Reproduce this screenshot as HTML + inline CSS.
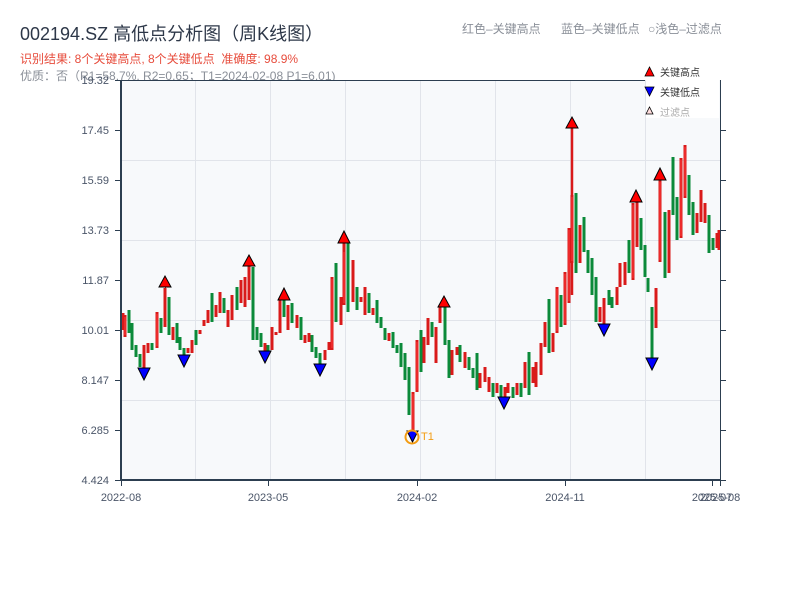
<!DOCTYPE html>
<html>
<head>
<meta charset="utf-8">
<style>
html,body{margin:0;padding:0;background:#fff;}
svg{display:block;}
text{font-family:"Liberation Sans","Noto Sans CJK SC",sans-serif;}
</style>
</head>
<body>
<svg width="800" height="600" viewBox="0 0 800 600" xmlns="http://www.w3.org/2000/svg">
<rect x="0" y="0" width="800" height="600" fill="#fff"/>

<!-- header texts -->
<text x="20" y="40" font-size="18" fill="#2d3748">002194.SZ 高低点分析图（周K线图）</text>
<text x="20" y="63" font-size="12" fill="#e74c3c" xml:space="preserve">识别结果: 8个关键高点, 8个关键低点  准确度: 98.9%</text>
<text x="20" y="80" font-size="12" fill="#8a8f98">优质：否（R1=58.7%, R2=0.65；T1=2024-02-08 P1=6.01)</text>
<text x="462" y="33" font-size="12" fill="#8a8f98">红色–关键高点</text>
<text x="561" y="33" font-size="12" fill="#8a8f98">蓝色–关键低点</text>
<text x="648" y="33" font-size="12" fill="#8a8f98">○浅色–过滤点</text>

<!-- plot background -->
<rect x="121" y="80" width="599" height="400" fill="#f7f9fb"/>
<!-- grid -->
<g stroke="#e1e4ea" stroke-width="1">
<path d="M195.5 80V480M270.5 80V480M345.5 80V480M420.5 80V480M495.5 80V480M570.5 80V480M645.5 80V480"/>
<path d="M121 160.5H720M121 240.5H720M121 320.5H720M121 400.5H720"/>
</g>

<!-- legend box -->
<rect x="646" y="62" width="73" height="56" fill="#fff"/>

<!-- candles red -->
<path stroke="#d91a1a" stroke-width="3" fill="none" d="M123 313V330M125 315V337M144 345V368M148 343V353M157 312V348M165 288V327M173 327V340M188 348V353M192 340V353M200 330V334M204 320V326M208 310V323M216 305V317M220 292V313M228 310V327M232 295V320M241 280V303M245 277V307M249 266V300M265 343V351M272 327V350M276 332V335M280 300V333M288 305V330M297 315V328M305 335V343M309 333V342M325 350V360M329 342V350M332 277V350M341 297V325M344 243V305M353 260V302M361 297V302M365 287V315M373 308V315M389 333V341M413 392V431M417 340V392M424 337V363M428 318V345M436 327V363M440 307V323M452 350V375M457 347V355M465 352V368M480 373V388M485 367V382M489 377V392M497 383V393M505 387V397M508 383V393M517 383V395M525 362V388M533 367V383M536 362V387M541 343V375M545 322V347M553 333V352M557 287V333M565 272V325M569 228V303M572 195V263M580 225V263M600 307V322M604 298V324M617 287V305M620 263V287M625 262V285M633 203V280M637 202V247M656 288V328M660 180V262M669 210V273M681 158V238M685 145V198M697 213V233M701 190V222M705 203V223M717 233V248M719 230V250"/>
<path stroke="#d91a1a" stroke-width="2.5" fill="none" d="M572 128V295"/>
<path stroke="#d91a1a" stroke-width="1" fill="none" d="M165.5 287V290M249.5 266V268M344.5 243V250M413.5 428V434M660.5 180V185M637 202V205"/>
<path stroke="#ff3b3b" stroke-width="1" fill="none" d="M125 317V335M157 314V346M332 279V348M344 252V303M413 394V429M417 342V390M557 289V331M565 274V323M569 230V301M572 197V261M633 205V278M660 182V260M681 160V236M685 147V196"/>

<!-- candles green -->
<path stroke="#0b8a3a" stroke-width="3" fill="none" d="M129 310V333M132 323V350M136 345V357M140 354V367M152 343V350M161 318V333M169 297V335M177 323V343M180 337V350M184 348V355M196 330V345M212 293V322M224 298V313M237 287V310M253 267V340M257 327V340M261 333V347M268 345V352M284 300V317M292 303V323M301 317V340M312 335V352M316 347V358M320 353V364M336 263V322M348 243V312M357 287V310M369 293V313M377 300V323M381 317V328M385 328V340M393 332V348M397 345V353M401 343V367M405 353V380M409 367V415M421 330V372M432 322V337M445 307V345M449 340V378M460 345V362M469 357V370M473 368V378M477 353V390M493 383V397M501 385V397M513 387V398M521 383V397M529 352V395M549 299V353M561 295V327M576 193V273M584 217V252M588 250V273M592 258V295M596 277V322M609 290V305M612 297V308M629 240V273M641 218V250M645 245V277M648 278V292M652 307V358M665 212V278M673 157V215M677 197V240M689 175V215M693 202V235M709 215V253M713 238V250"/>

<!-- high markers -->
<g fill="#ff0000" stroke="#000" stroke-width="1">
<path d="M159 287L165 276L171 287Z"/>
<path d="M243 266L249 255L255 266Z"/>
<path d="M278 300L284 288L290 300Z"/>
<path d="M338 243L344 231L350 243Z"/>
<path d="M438 307L444 296L450 307Z"/>
<path d="M566 128L572 117L578 128Z"/>
<path d="M630 202L636 190L642 202Z"/>
<path d="M654 180L660 168L666 180Z"/>
</g>
<!-- low markers -->
<g fill="#0000ff" stroke="#000" stroke-width="1">
<path d="M138 368L150 368L144 380Z"/>
<path d="M178 355L190 355L184 367Z"/>
<path d="M259 351L271 351L265 363Z"/>
<path d="M314 364L326 364L320 376Z"/>
<path d="M407 431L418 431L412.5 442Z"/>
<path d="M498 397L510 397L504 409Z"/>
<path d="M598 324L610 324L604 336Z"/>
<path d="M646 358L658 358L652 370Z"/>
</g>
<circle cx="412" cy="437" r="6.5" fill="none" stroke="#f39c12" stroke-width="2"/>
<text x="421" y="440" font-size="11" fill="#f39c12">T1</text>

<!-- legend -->
<path d="M645 76L649.5 67L654 76Z" fill="#ff0000" stroke="#000" stroke-width="0.8"/>
<text x="660" y="76" font-size="10" fill="#333">关键高点</text>
<path d="M645 87L654 87L649.5 96Z" fill="#0000ff" stroke="#000" stroke-width="0.8"/>
<text x="660" y="96" font-size="10" fill="#333">关键低点</text>
<path d="M646 114L649.5 107L653 114Z" fill="#fdd" stroke="#000" stroke-width="0.8"/>
<text x="660" y="116" font-size="10" fill="#aaa">过滤点</text>

<!-- axes -->
<path d="M121 80.5H645" stroke="#2c3e50" stroke-width="1"/>
<path d="M720.5 80V480" stroke="#2c3e50" stroke-width="1"/>
<path d="M121 80V481" stroke="#2c3e50" stroke-width="2"/>
<path d="M120 480H721" stroke="#2c3e50" stroke-width="2"/>

<!-- ticks -->
<g stroke="#2c3e50" stroke-width="1">
<path d="M115 80.5H121M115 130.5H121M115 180.5H121M115 230.5H121M115 280.5H121M115 330.5H121M115 380.5H121M115 430.5H121M115 480.5H121"/>
<path d="M720 130.5H726M720 180.5H726M720 230.5H726M720 280.5H726M720 330.5H726M720 380.5H726M720 430.5H726M720 480.5H726"/>
<path d="M121.5 480V486M268.5 480V486M417.5 480V486M565.5 480V486M712.5 480V486M720.5 480V486"/>
</g>
<g font-size="11" fill="#4a5568" text-anchor="end">
<text x="109" y="84">19.32</text>
<text x="109" y="134">17.45</text>
<text x="109" y="184">15.59</text>
<text x="109" y="234">13.73</text>
<text x="109" y="284">11.87</text>
<text x="109" y="334">10.01</text>
<text x="109" y="384">8.147</text>
<text x="109" y="434">6.285</text>
<text x="109" y="484">4.424</text>
</g>
<g font-size="11" fill="#4a5568" text-anchor="middle">
<text x="121" y="501">2022-08</text>
<text x="268" y="501">2023-05</text>
<text x="417" y="501">2024-02</text>
<text x="565" y="501">2024-11</text>
<text x="712" y="501">2025-07</text>
<text x="720" y="501">2025-08</text>
</g>
</svg>
</body>
</html>
